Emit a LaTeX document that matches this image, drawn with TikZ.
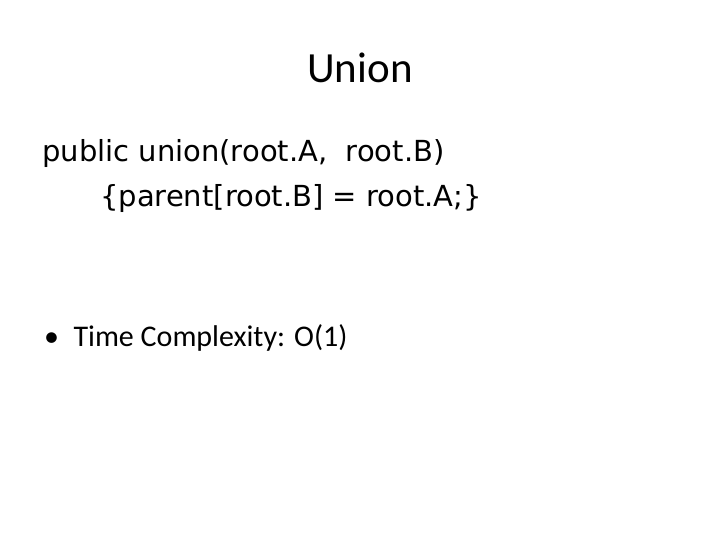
\documentclass[tikz,border=0pt]{standalone}
\usepackage{fontspec}
\setmainfont{Carlito}
\newfontfamily\codefont{DejaVu Sans}
\usetikzlibrary{positioning}
\tikzset{
  title/.style={anchor=center,inner sep=0pt,font=\fontsize{43}{48}\selectfont},
  code/.style={anchor=base west,inner sep=0pt,font=\codefont\fontsize{29}{34}\selectfont},
  bullet/.style={anchor=base west,inner sep=0pt,font=\fontsize{30}{36}\selectfont}
}
\begin{document}
\begin{tikzpicture}[x=1pt,y=-1pt]
	\useasboundingbox[fill=white] (0,0) rectangle (720,540);
	
	\node[title] (head) at (360,68) {Union};
	
	\node[code] (sig) at (42,162) {public union(root.A,\ \ root.B)};
	\node[code] (body) at (100,207) {\{parent[root.B] = root.A;\}};
	
	\node[bullet] (dot) at (44,346) {\textbullet};
	\node[bullet,right=14pt of dot.base east,anchor=base west] (cost) {Time Complexity: O(1)};
\end{tikzpicture}
\end{document}
